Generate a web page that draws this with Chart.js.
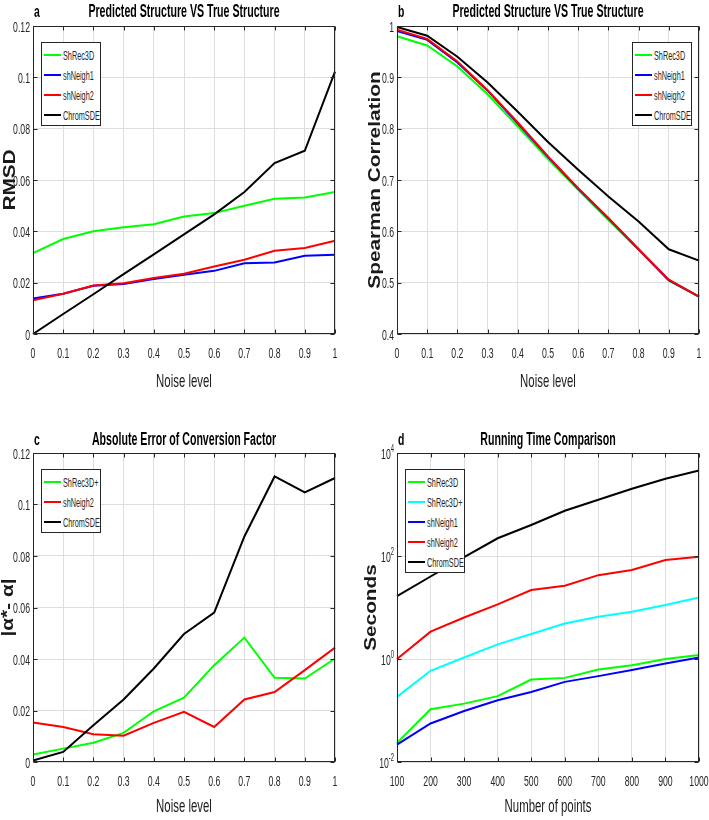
<!DOCTYPE html>
<html>
<head>
<meta charset="utf-8">
<script src="https://cdn.jsdelivr.net/npm/chart.js@4.4.1/dist/chart.umd.min.js"></script>
<style>
    body { margin: 0; background: #fff; }
    #fig { position: relative; width: 709px; height: 820px; overflow: hidden; }
    #fig canvas { position: absolute; }
    .legend {
        position: absolute; box-sizing: border-box; background: #fff;
        border: 1px solid #262626; padding-top: 2px;
        font-family: 'Liberation Sans', Arial, sans-serif;
        color: #262626;
    }
    .legend .row { height: 20px; display: flex; align-items: center; white-space: nowrap; }
    .legend .swatch { width: 17px; height: 2px; margin: 0 2px 0 2px; flex: none; }
    .legend .txt { display: inline-block; font-size: 13px; transform: scaleX(0.56); transform-origin: left center; }
</style>
</head>
<body>
<div id="fig"></div>
<script>
const FONT = "'Liberation Sans', Arial, sans-serif";
const INK = '#262626';
const GRID = '#dedede';
const SQUEEZE = 0.58;   // the figure's text is very condensed

// x categories
const noiseLevels = ['0', '0.1', '0.2', '0.3', '0.4', '0.5', '0.6', '0.7', '0.8', '0.9', '1'];
const pointCounts = ['100', '200', '300', '400', '500', '600', '700', '800', '900', '1000'];

// y ticks
const errTicks = [0, 0.02, 0.04, 0.06, 0.08, 0.1, 0.12];
const errTickLabels = ['0', '0.02', '0.04', '0.06', '0.08', '0.1', '0.12'];
const corrTicks = [0.4, 0.5, 0.6, 0.7, 0.8, 0.9, 1];
const corrTickLabels = ['0.4', '0.5', '0.6', '0.7', '0.8', '0.9', '1'];
const timeTicks = [0.01, 1, 100, 10000];
const timeTickLabels = ['10^-2', '10^0', '10^2', '10^4'];

// a: RMSD
const rmsdShRec3D   = [0.0315, 0.0370, 0.0400, 0.0416, 0.0428, 0.0458, 0.0471, 0.0500, 0.0527, 0.0532, 0.0553];
const rmsdShNeigh1  = [0.0138, 0.0157, 0.0188, 0.0195, 0.0214, 0.0231, 0.0246, 0.0276, 0.0279, 0.0305, 0.0309];
const rmsdShNeigh2  = [0.0131, 0.0157, 0.0189, 0.0198, 0.0218, 0.0235, 0.0263, 0.0289, 0.0324, 0.0335, 0.0363];
const rmsdChromSDE  = [0.0000, 0.0078, 0.0155, 0.0233, 0.0310, 0.0388, 0.0466, 0.0553, 0.0666, 0.0714, 0.1022];

// b: Spearman correlation
const spShRec3D  = [0.980, 0.962, 0.921, 0.867, 0.804, 0.741, 0.681, 0.622, 0.564, 0.504, 0.473];
const spShNeigh1 = [0.990, 0.973, 0.929, 0.874, 0.810, 0.745, 0.683, 0.625, 0.565, 0.505, 0.473];
const spShNeigh2 = [0.993, 0.975, 0.931, 0.875, 0.812, 0.746, 0.684, 0.626, 0.565, 0.506, 0.473];
const spChromSDE = [0.998, 0.981, 0.940, 0.890, 0.833, 0.774, 0.720, 0.668, 0.619, 0.565, 0.543];

// c: conversion factor error
const alphaShRec3DPlus = [0.0029, 0.0052, 0.0075, 0.0113, 0.0197, 0.0250, 0.0376, 0.0483, 0.0327, 0.0324, 0.0402];
const alphaShNeigh2    = [0.0153, 0.0136, 0.0108, 0.0102, 0.0152, 0.0195, 0.0136, 0.0243, 0.0272, 0.0357, 0.0444];
const alphaChromSDE    = [0.0006, 0.0039, 0.0143, 0.0243, 0.0363, 0.0497, 0.0580, 0.0876, 0.1109, 0.1047, 0.1103];

// d: running time (seconds)
const timeShRec3D     = [0.0235, 0.106, 0.136, 0.19, 0.40, 0.43, 0.625, 0.76, 1.0, 1.19];
const timeShRec3DPlus = [0.184, 0.59, 1.07, 1.92, 3.05, 4.9, 6.6, 8.3, 11.2, 15.7];
const timeShNeigh1    = [0.0218, 0.056, 0.098, 0.158, 0.229, 0.36, 0.465, 0.61, 0.82, 1.07];
const timeShNeigh2    = [1.0, 3.4, 6.4, 11.5, 21.9, 26.5, 42.5, 53.5, 83.6, 97];
const timeChromSDE    = [16.7, 40, 95, 221, 400, 756, 1240, 2020, 3150, 4570];

const GREEN = '#00ff00', BLUE = '#0000ff', RED = '#ff0000', BLACK = '#000000', CYAN = '#00ffff';

const panels = [
    {
        letter: 'a', title: 'Predicted Structure VS True Structure',
        box: { x: 0, y: 0, w: 354, h: 410 }, plot: { l: 33, t: 26, r: 335, b: 334 },
        titleBase: 17, xTitleOff: 53, yTitleX: 15,
        labels: noiseLevels, xTitle: 'Noise level', yTitle: 'RMSD',
        yType: 'linear', yTicks: errTicks, yTickLabels: errTickLabels,
        series: [
            { name: 'ShRec3D', data: rmsdShRec3D, color: GREEN },
            { name: 'shNeigh1', data: rmsdShNeigh1, color: BLUE },
            { name: 'shNeigh2', data: rmsdShNeigh2, color: RED },
            { name: 'ChromSDE', data: rmsdChromSDE, color: BLACK }
        ],
        legend: { x: 41, y: 42, w: 60 }
    },
    {
        letter: 'b', title: 'Predicted Structure VS True Structure',
        box: { x: 354, y: 0, w: 355, h: 410 }, plot: { l: 43, t: 26, r: 345, b: 334 },
        titleBase: 17, xTitleOff: 53, yTitleX: 26,
        labels: noiseLevels, xTitle: 'Noise level', yTitle: 'Spearman Correlation',
        yType: 'linear', yTicks: corrTicks, yTickLabels: corrTickLabels,
        series: [
            { name: 'ShRec3D', data: spShRec3D, color: GREEN },
            { name: 'shNeigh1', data: spShNeigh1, color: BLUE },
            { name: 'shNeigh2', data: spShNeigh2, color: RED },
            { name: 'ChromSDE', data: spChromSDE, color: BLACK }
        ],
        legend: { x: 632, y: 42, w: 60 }
    },
    {
        letter: 'c', title: 'Absolute Error of Conversion Factor',
        box: { x: 0, y: 410, w: 354, h: 410 }, plot: { l: 33, t: 43, r: 335, b: 352 },
        titleBase: 35, xTitleOff: 50, yTitleX: 13,
        labels: noiseLevels, xTitle: 'Noise level', yTitle: '|α*- α|',
        yType: 'linear', yTicks: errTicks, yTickLabels: errTickLabels,
        series: [
            { name: 'ShRec3D+', data: alphaShRec3DPlus, color: GREEN },
            { name: 'shNeigh2', data: alphaShNeigh2, color: RED },
            { name: 'ChromSDE', data: alphaChromSDE, color: BLACK }
        ],
        legend: { x: 41, y: 469, w: 60 }
    },
    {
        letter: 'd', title: 'Running Time Comparison',
        box: { x: 354, y: 410, w: 355, h: 410 }, plot: { l: 43, t: 43, r: 345, b: 352 },
        titleBase: 35, xTitleOff: 50, yTitleX: 22,
        labels: pointCounts, xTitle: 'Number of points', yTitle: 'Seconds',
        yType: 'logarithmic', yTicks: timeTicks, yTickLabels: timeTickLabels,
        series: [
            { name: 'ShRec3D', data: timeShRec3D, color: GREEN },
            { name: 'ShRec3D+', data: timeShRec3DPlus, color: CYAN },
            { name: 'shNeigh1', data: timeShNeigh1, color: BLUE },
            { name: 'shNeigh2', data: timeShNeigh2, color: RED },
            { name: 'ChromSDE', data: timeChromSDE, color: BLACK }
        ],
        legend: { x: 405, y: 469, w: 60 }
    }
];

// condensed text: canvas text scaled horizontally around its anchor
function narrowText(ctx, text, x, y, font, align, sx) {
    ctx.save();
    ctx.font = font;
    ctx.textAlign = align;
    ctx.translate(x, y);
    ctx.scale(sx, 1);
    ctx.fillText(text, 0, 0);
    ctx.restore();
}

// MATLAB look: box frame, inward ticks, condensed labels and titles
const matlabAxes = {
    id: 'matlabAxes',
    afterDatasetsDraw(chart, args, opts) {
        const p = opts.panel;
        const { ctx, chartArea: a, scales: { x, y } } = chart;
        const L = Math.round(a.left) + 0.5, R = Math.round(a.right) - 0.5;
        const T = Math.round(a.top) + 0.5, B = Math.round(a.bottom) - 0.5;
        ctx.save();
        ctx.strokeStyle = INK;
        ctx.lineWidth = 1;
        ctx.beginPath();
        x.ticks.forEach((t, i) => {
            const px = Math.round(x.getPixelForTick(i)) + 0.5;
            ctx.moveTo(px, B); ctx.lineTo(px, B - 4);
            ctx.moveTo(px, T); ctx.lineTo(px, T + 4);
        });
        y.ticks.forEach((t, i) => {
            const py = Math.round(y.getPixelForTick(i)) + 0.5;
            ctx.moveTo(L, py); ctx.lineTo(L + 4, py);
            ctx.moveTo(R, py); ctx.lineTo(R - 4, py);
        });
        ctx.stroke();
        ctx.strokeRect(L, T, R - L, B - T);

        ctx.textBaseline = 'alphabetic';
        ctx.fillStyle = INK;
        const tickFont = '15px ' + FONT;

        // x tick labels
        x.ticks.forEach((t, i) => {
            narrowText(ctx, p.labels[t.value], x.getPixelForTick(i), a.bottom + 24, tickFont, 'center', SQUEEZE);
        });

        // y tick labels (log labels get a raised exponent)
        y.ticks.forEach((t, i) => {
            const py = y.getPixelForTick(i) + 5.5;
            const right = a.left - 3;
            const parts = p.yTickLabels[i].split('^');
            if (parts.length === 2) {
                ctx.font = '10px ' + FONT;
                const ew = ctx.measureText(parts[1]).width * SQUEEZE;
                narrowText(ctx, parts[1], right, py - 7, '10px ' + FONT, 'right', SQUEEZE);
                narrowText(ctx, parts[0], right - ew, py, tickFont, 'right', SQUEEZE);
            } else {
                narrowText(ctx, parts[0], right, py, tickFont, 'right', SQUEEZE);
            }
        });

        // x axis title
        ctx.fillStyle = '#1a1a1a';
        narrowText(ctx, p.xTitle, (a.left + a.right) / 2, a.bottom + p.xTitleOff, '19px ' + FONT, 'center', 0.6);

        // y axis title: bold, rotated, drawn long
        ctx.save();
        ctx.font = 'bold 16px ' + FONT;
        ctx.textAlign = 'center';
        ctx.translate(p.yTitleX, (a.top + a.bottom) / 2);
        ctx.rotate(-Math.PI / 2);
        ctx.scale(1.3, 1);
        ctx.fillText(p.yTitle, 0, 0);
        ctx.restore();

        // panel title and letter
        ctx.fillStyle = '#000';
        narrowText(ctx, p.title, (a.left + a.right) / 2, p.titleBase, 'bold 18px ' + FONT, 'center', 0.59);
        narrowText(ctx, p.letter, a.left + 1, p.titleBase, 'bold 16px ' + FONT, 'left', 0.65);
        ctx.restore();
    }
};

const fig = document.getElementById('fig');

function makePanel(p) {
    const canvas = document.createElement('canvas');
    canvas.width = p.box.w;
    canvas.height = p.box.h;
    canvas.style.left = p.box.x + 'px';
    canvas.style.top = p.box.y + 'px';
    fig.appendChild(canvas);

    const n = p.series.length;
    new Chart(canvas, {
        type: 'line',
        data: {
            labels: p.labels,
            datasets: p.series.map((s, i) => ({
                label: s.name,
                data: s.data,
                borderColor: s.color,
                backgroundColor: s.color,
                borderWidth: 2,
                pointRadius: 0,
                tension: 0,
                order: n - i   // later series on top, like MATLAB
            }))
        },
        options: {
            responsive: false,
            animation: false,
            events: [],
            layout: { padding: { left: 0, top: p.plot.t, right: p.box.w - p.plot.r, bottom: 0 } },
            plugins: {
                legend: { display: false },
                tooltip: { enabled: false },
                title: { display: false },
                matlabAxes: { panel: p }
            },
            scales: {
                x: {
                    type: 'category',
                    grid: { color: GRID, drawTicks: false },
                    border: { display: false },
                    ticks: { display: false, autoSkip: false, maxRotation: 0 },
                    afterFit: s => { s.height = p.box.h - p.plot.b; }
                },
                y: {
                    type: p.yType,
                    min: p.yTicks[0],
                    max: p.yTicks[p.yTicks.length - 1],
                    afterBuildTicks: s => { s.ticks = p.yTicks.map(v => ({ value: v })); },
                    grid: { color: GRID, drawTicks: false },
                    border: { display: false },
                    ticks: { display: false },
                    afterFit: s => { s.width = p.plot.l; }
                }
            }
        },
        plugins: [matlabAxes]
    });

    // legend box inside the axes
    const lg = document.createElement('div');
    lg.className = 'legend';
    lg.style.left = p.legend.x + 'px';
    lg.style.top = p.legend.y + 'px';
    lg.style.width = p.legend.w + 'px';
    lg.style.height = (n * 20 + 4) + 'px';
    p.series.forEach(s => {
        const row = document.createElement('div');
        row.className = 'row';
        row.innerHTML = `<span class="swatch" style="background:${s.color}"></span><span class="txt">${s.name}</span>`;
        lg.appendChild(row);
    });
    fig.appendChild(lg);
}

panels.forEach(makePanel);
</script>
</body>
</html>
